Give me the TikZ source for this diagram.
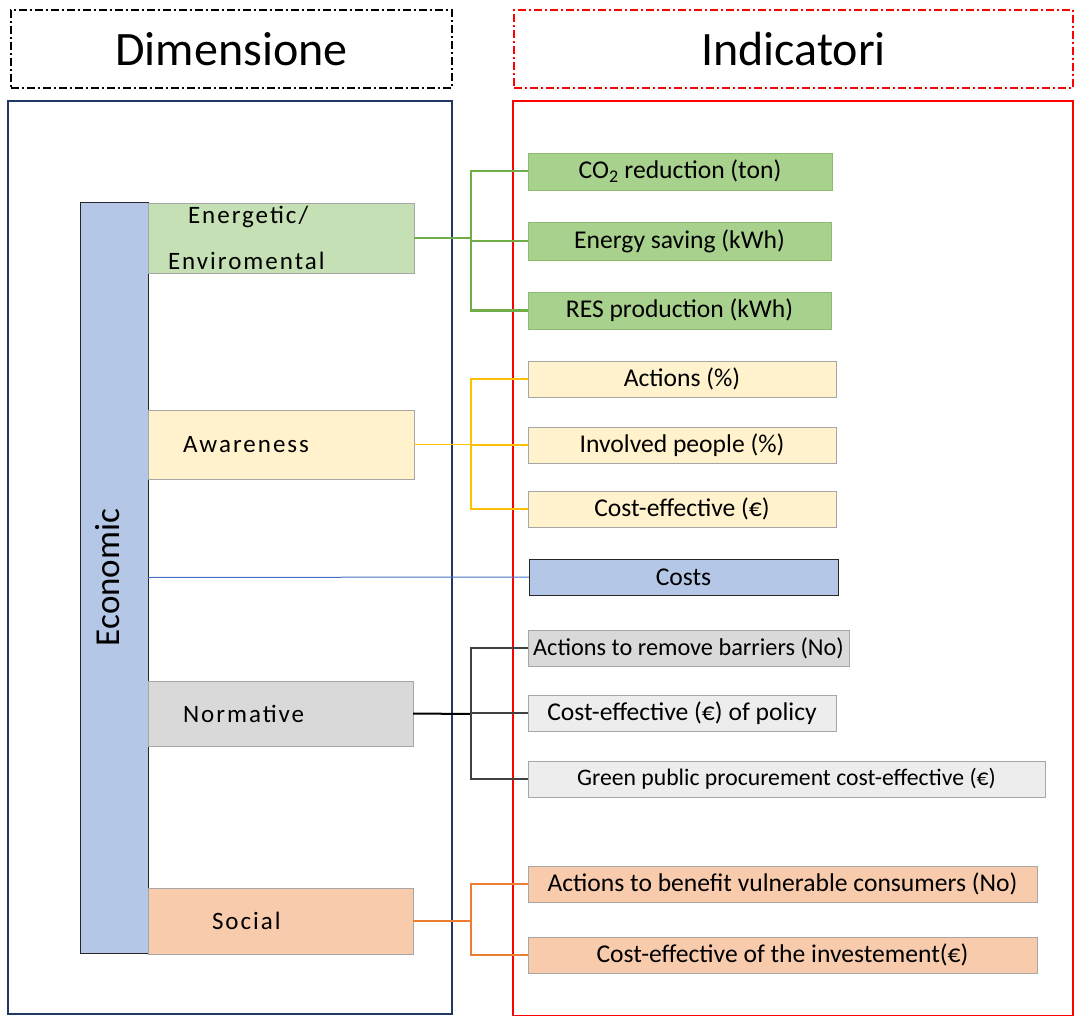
\documentclass[tikz,border=0pt]{standalone}
\usepackage{fontspec}
\setmainfont{Carlito}
\newfontfamily\spacedfont[LetterSpace=8]{Carlito}
\usepackage{xcolor}
\usepackage{tikz}
\usetikzlibrary{positioning}
\definecolor{navy}{HTML}{203864}
\definecolor{econblue}{HTML}{B4C7E7}
\definecolor{envgreen}{HTML}{C5E0B4}
\definecolor{indgreen}{HTML}{A9D18E}
\definecolor{lgreen}{HTML}{70AD47}
\definecolor{awyellow}{HTML}{FFF2CC}
\definecolor{lyellow}{HTML}{FFC000}
\definecolor{normgray}{HTML}{D9D9D9}
\definecolor{polgray}{HTML}{EDEDED}
\definecolor{socorange}{HTML}{F8CBAD}
\definecolor{lorange}{HTML}{ED7D31}
\definecolor{lblue}{HTML}{4472C4}
\tikzset{
    header/.style = {rectangle, draw, line width=2.3pt, dash pattern=on 8pt off 3pt on 2pt off 3pt, minimum height=78pt, font=\fontsize{48}{56}\selectfont},
    dimbox/.style = {rectangle, draw=gray!70, align=left, inner xsep=0pt, inner ysep=0pt, font=\spacedfont\fontsize{25}{46}\selectfont},
    indbox/.style = {rectangle, draw=gray!70, align=center, inner sep=0pt, minimum height=36pt, font=\fontsize{25.6}{30}\selectfont},
}

\begin{document}
\begin{tikzpicture}[
	x=1pt, y=-1pt
]
\tikzset{
    edgeg/.style = {-, line width=2pt, lgreen},
    edgey/.style = {-, line width=1.2pt, lyellow},
    edgeb/.style = {-, line width=1pt, lblue},
    edgek/.style = {-, line width=1.2pt, black!75},
    edgeo/.style = {-, line width=1.2pt, lorange},
}
\useasboundingbox (0,0) rectangle (1076,1016);
% headers and frames
\node[header, minimum width=441pt] at (231.5,49) (dim) {Dimensione};
\node[header, draw=red, minimum width=559pt] at (793.5,49) (ind) {Indicatori};
\draw[navy, line width=2pt] (8,101) rectangle (452,1014);
\draw[red, line width=2pt] (513,101) rectangle (1073,1016);
%
\node[rectangle, draw=black!85, fill=econblue, minimum width=68pt, minimum height=751pt, inner sep=0pt, font=\fontsize{35}{40}\selectfont] at (114,577.5) (econ) {\rotatebox{90}{\raisebox{6pt}[\height][\depth]{Economic}}};
\node[dimbox, fill=envgreen, text width=266pt, minimum height=70pt] at (281,238) (env) {\hspace*{40pt}Energetic/\\\hspace*{20pt}Enviromental};
\node[dimbox, fill=awyellow, text width=266pt, minimum height=69pt] at (281,444.5) (aw) {\hspace*{35pt}Awareness};
\node[dimbox, fill=normgray, text width=265pt, minimum height=65pt] at (280.5,713.5) (norm) {\hspace*{35pt}Normative};
\node[dimbox, fill=socorange, text width=265pt, minimum height=66pt] at (280.5,921) (soc) {\hspace*{64pt}Social};
%
\node[indbox, draw=lgreen!80, fill=indgreen, minimum width=304pt, minimum height=37pt] at (680,171.5) (co2) {CO\textsubscript{2} reduction (ton)};
\node[indbox, draw=lgreen!80, fill=indgreen, minimum width=303pt, minimum height=38pt] at (679.5,241) (esav) {Energy saving (kWh)};
\node[indbox, draw=lgreen!80, fill=indgreen, minimum width=303pt, minimum height=37pt] at (679.5,310.5) (res) {RES production (kWh)};
\node[indbox, fill=awyellow, minimum width=308pt] at (682,379) (act) {Actions (\%)};
\node[indbox, fill=awyellow, minimum width=308pt] at (682,445) (inv) {Involved people (\%)};
\node[indbox, fill=awyellow, minimum width=308pt] at (682,509) (ceff) {Cost-effective (€)};
\node[indbox, draw=black!85, fill=econblue, minimum width=309pt] at (683.5,577) (costs) {Costs};
\node[indbox, fill=normgray, minimum width=321pt, font=\fontsize{24.3}{30}\selectfont] at (688.5,648) (barr) {Actions to remove barriers (No)};
\node[indbox, fill=polgray, minimum width=308pt] at (682,713) (pol) {Cost-effective (€) of policy};
\node[indbox, fill=polgray, minimum width=517pt, font=\fontsize{23.7}{30}\selectfont] at (786.5,779) (gpp) {Green public procurement cost-effective (€)};
\node[indbox, fill=socorange, minimum width=509pt] at (782.5,884) (vuln) {Actions to benefit vulnerable consumers (No)};
\node[indbox, fill=socorange, minimum width=509pt] at (782.5,955) (invest) {Cost-effective of the investement(€)};
%
\coordinate (gj) at (471,238);
\coordinate (yj) at (471,444.5);
\coordinate (kj) at (471,714);
\coordinate (oj) at (471,921);
%
\draw[edgeg] (env.east) -- (gj);
\draw[edgeg] (gj) |- (co2.west);
\draw[edgeg] (gj) |- (esav.west);
\draw[edgeg] (gj) |- (res.west);
%
\draw[edgey] (aw.east) -- (yj);
\draw[edgey] (yj) |- (act.west);
\draw[edgey] (yj) |- (inv.west);
\draw[edgey] (yj) |- (ceff.west);
%
\draw[edgeb] (econ.east) -- (costs.west);
%
\draw[edgek, line width=2pt, black] (norm.east) -- (kj);
\draw[edgek] (kj) |- (barr.west);
\draw[edgek] (kj) |- (pol.west);
\draw[edgek] (kj) |- (gpp.west);
%
\draw[edgeo] (soc.east) -- (oj);
\draw[edgeo] (oj) |- (vuln.west);
\draw[edgeo] (oj) |- (invest.west);
\end{tikzpicture}
\end{document}
